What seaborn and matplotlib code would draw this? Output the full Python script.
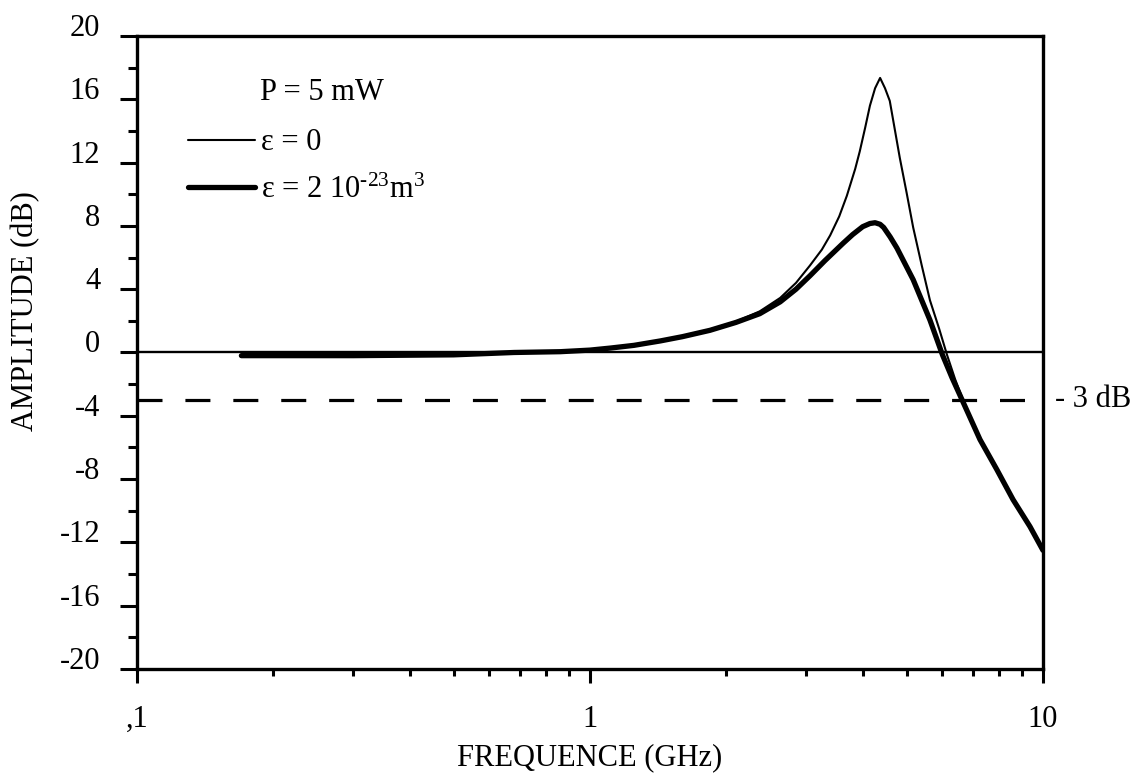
import matplotlib
matplotlib.use("Agg")
import matplotlib.pyplot as plt
import matplotlib.transforms as mtransforms
from matplotlib.ticker import FixedLocator, FixedFormatter, NullFormatter
import seaborn as sns
import pandas as pd

# Modulation response of the laser, P = 5 mW
freq_eps0 = [0.17, 0.3, 0.5, 0.68, 0.86, 1.0, 1.11, 1.25, 1.43, 1.6, 1.84, 2.1,
             2.37, 2.63, 2.85, 3.06, 3.25, 3.39, 3.55, 3.69, 3.85, 3.94, 4.05,
             4.15, 4.26, 4.37, 4.48, 4.59, 4.83, 5.0, 5.17, 5.4, 5.63, 5.9,
             6.14, 6.4, 6.66, 7.26, 7.91, 8.59, 9.36, 10.0]
amp_eps0 = [-0.2, -0.2, -0.15, 0.0, 0.05, 0.15, 0.28, 0.45, 0.73, 1.05, 1.45, 1.95,
            2.6, 3.45, 4.4, 5.5, 6.5, 7.4, 8.6, 9.9, 11.6, 12.7, 14.2,
            15.6, 16.7, 17.35, 16.7, 15.9, 12.3, 10.1, 7.9, 5.5, 3.3, 1.5,
            -0.15, -1.7, -3.0, -5.5, -7.4, -9.3, -11.0, -12.5]

freq_eps = [0.17, 0.3, 0.5, 0.68, 0.86, 1.0, 1.11, 1.25, 1.43, 1.6, 1.84, 2.1,
            2.37, 2.63, 2.85, 3.06, 3.3, 3.62, 3.8, 4.0, 4.15, 4.26, 4.37,
            4.45, 4.6, 4.76, 5.17, 5.63, 6.0, 6.3, 6.63, 7.26, 7.91, 8.59,
            9.36, 10.0]
amp_eps = [-0.2, -0.2, -0.15, 0.0, 0.05, 0.15, 0.28, 0.45, 0.73, 1.0, 1.4, 1.9,
           2.45, 3.2, 4.0, 4.85, 5.8, 6.9, 7.45, 7.95, 8.15, 8.2, 8.1,
           7.9, 7.3, 6.6, 4.6, 2.05, -0.15, -1.6, -3.0, -5.5, -7.4, -9.3,
           -11.0, -12.5]

label_eps0 = "ε = 0"
label_eps = "ε = 2 10$^{\u201023}$m$^{3}$"
power_text = "P = 5 mW"
cutoff_level = -3
cutoff_text = "- 3 dB"

y_ticks = [-20, -16, -12, -8, -4, 0, 4, 8, 12, 16, 20]
y_ticklabels = ["-20", "-16", "-12", "-8", "-4", "0", "4", "8", "12", "16", "20"]
y_minor = [-18, -14, -10, -6, -2, 2, 6, 10, 14, 18]
x_ticks = [0.1, 1, 10]
x_ticklabels = [",1", "1", "10"]
x_minor = [m * d for d in (0.1, 1) for m in range(2, 10)]

sns.set_style("ticks")
plt.rcParams["font.family"] = ["Liberation Serif", "DejaVu Serif"]
plt.rcParams["mathtext.fontset"] = "custom"
plt.rcParams["mathtext.rm"] = "Liberation Serif"
plt.rcParams["mathtext.it"] = "Liberation Serif:italic"
plt.rcParams["mathtext.default"] = "regular"
plt.rcParams["axes.unicode_minus"] = False
for key in ["text.color", "axes.labelcolor", "xtick.color", "ytick.color",
            "axes.edgecolor"]:
    plt.rcParams[key] = "black"

FS = 22

fig = plt.figure(figsize=(11.36, 7.74), dpi=100)
ax = fig.add_axes([0.1206, 0.1357, 0.7975, 0.8178])

df0 = pd.DataFrame({"freq": freq_eps0, "amp": amp_eps0})
df1 = pd.DataFrame({"freq": freq_eps, "amp": amp_eps})

ax.axhline(0, color="black", lw=1.7, zorder=1)
ax.axhline(cutoff_level, color="black", lw=2.3, zorder=1,
           ls=(0, (18 / 2.3, 16.5 / 2.3)))

sns.lineplot(data=df0, x="freq", y="amp", ax=ax, color="black", lw=1.5,
             sort=False, estimator=None, label=label_eps0, zorder=3)
sns.lineplot(data=df1, x="freq", y="amp", ax=ax, color="black", lw=3.8,
             sort=False, estimator=None, label=label_eps, zorder=3)

ax.set_xscale("log")
ax.set_xlim(0.1, 10)
ax.set_ylim(-20, 20)

ax.xaxis.set_major_locator(FixedLocator(x_ticks))
ax.xaxis.set_major_formatter(FixedFormatter(x_ticklabels))
ax.xaxis.set_minor_locator(FixedLocator(x_minor))
ax.xaxis.set_minor_formatter(NullFormatter())
ax.yaxis.set_major_locator(FixedLocator(y_ticks))
ax.yaxis.set_major_formatter(FixedFormatter(y_ticklabels))
ax.yaxis.set_minor_locator(FixedLocator(y_minor))

for side in ["left", "right", "top", "bottom"]:
    ax.spines[side].set_visible(True)
    ax.spines[side].set_linewidth(2.4)
    ax.spines[side].set_color("black")

ax.tick_params(axis="y", which="major", direction="out", length=12.5, width=2.2,
               labelsize=FS, pad=14, colors="black")
ax.tick_params(axis="y", which="minor", direction="out", length=6.5, width=2.2)
ax.tick_params(axis="x", which="major", direction="out", length=10, width=2.2,
               labelsize=FS, pad=16, colors="black")
ax.tick_params(axis="x", which="minor", direction="out", length=5, width=2.2)
for lbl in ax.get_yticklabels():
    lbl.set_verticalalignment("baseline")

ax.set_xlabel("FREQUENCE (GHz)", fontsize=FS)
ax.set_ylabel("AMPLITUDE (dB)", fontsize=FS)
ax.xaxis.set_label_coords(0.5, -0.118)
ax.yaxis.set_label_coords(-0.107, 0.566)

ax.text(0.136, 0.9115, power_text, transform=ax.transAxes, fontsize=FS,
        ha="left", va="center")

leg = ax.legend(loc="upper left", bbox_to_anchor=(0.056, 0.854), frameon=False,
                fontsize=FS, handlelength=2.2, handletextpad=0.2,
                labelspacing=0.6, borderpad=0, borderaxespad=0)

blend = mtransforms.blended_transform_factory(ax.transAxes, ax.transData)
ax.text(1.013, cutoff_level, cutoff_text, transform=blend, fontsize=FS,
        ha="left", va="center")

fig.savefig("out.png", dpi=100)
